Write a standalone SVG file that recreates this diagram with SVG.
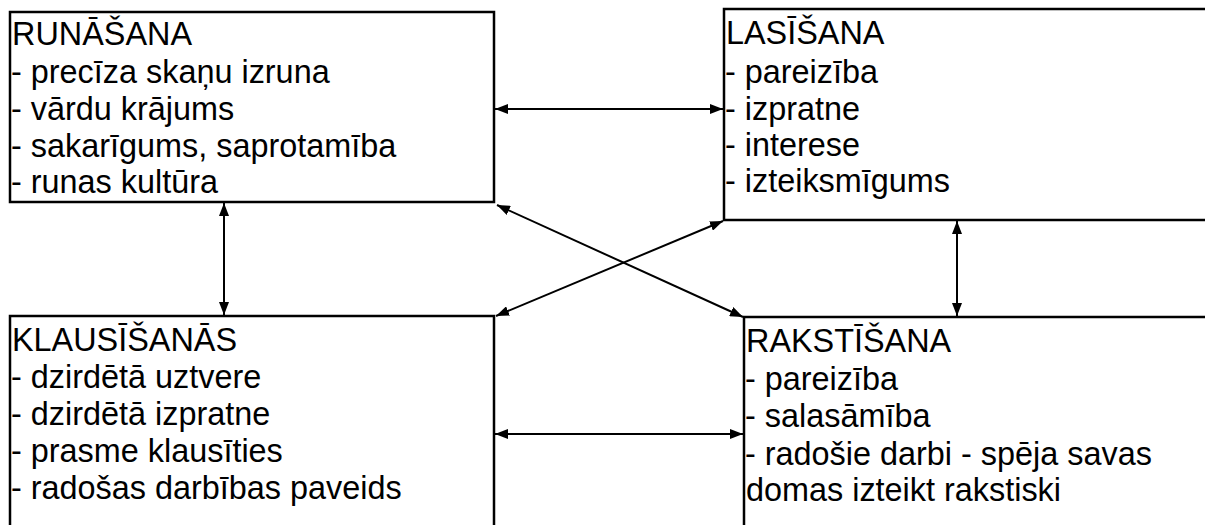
<svg xmlns="http://www.w3.org/2000/svg" width="1205" height="525" viewBox="0 0 1205 525">
  <style>
    .box { fill: #ffffff; stroke: #000000; stroke-width: 2.5; }
    .txt { font-family: "Liberation Sans", Arial, sans-serif; font-size: 32.4px; fill: #000000; }
    .link { stroke: #000000; stroke-width: 2; fill: none; marker-start: url(#arrow); marker-end: url(#arrow); }
  </style>
  <defs>
    <marker id="arrow" viewBox="0 0 13 10" refX="13" refY="5" markerWidth="13" markerHeight="10" markerUnits="userSpaceOnUse" orient="auto-start-reverse">
      <path d="M0,0 L13,5 L0,10 z" fill="#000000"/>
    </marker>
  </defs>
  <rect width="1205" height="525" fill="#ffffff"/>

  <g id="runasana">
    <rect class="box" x="10" y="12" width="484" height="190"/>
    <text class="txt" x="12" y="45">RUNĀŠANA</text>
    <text class="txt" x="11" y="83">- precīza skaņu izruna</text>
    <text class="txt" x="11" y="120">- vārdu krājums</text>
    <text class="txt" x="11" y="157">- sakarīgums, saprotamība</text>
    <text class="txt" x="11" y="193">- runas kultūra</text>
  </g>

  <g id="lasisana">
    <rect class="box" x="724" y="9" width="500" height="211"/>
    <text class="txt" x="726" y="44">LASĪŠANA</text>
    <text class="txt" x="725" y="83">- pareizība</text>
    <text class="txt" x="725" y="120">- izpratne</text>
    <text class="txt" x="725" y="156">- interese</text>
    <text class="txt" x="725" y="192">- izteiksmīgums</text>
  </g>

  <g id="klausisanas">
    <rect class="box" x="10" y="316" width="484" height="230"/>
    <text class="txt" x="12" y="351">KLAUSĪŠANĀS</text>
    <text class="txt" x="11" y="388">- dzirdētā uztvere</text>
    <text class="txt" x="11" y="425">- dzirdētā izpratne</text>
    <text class="txt" x="11" y="462">- prasme klausīties</text>
    <text class="txt" x="11" y="499">- radošas darbības paveids</text>
  </g>

  <g id="rakstisana">
    <rect class="box" x="744" y="317" width="500" height="230"/>
    <text class="txt" x="746" y="352">RAKSTĪŠANA</text>
    <text class="txt" x="745" y="390">- pareizība</text>
    <text class="txt" x="745" y="427">- salasāmība</text>
    <text class="txt" x="745" y="465">- radošie darbi - spēja savas</text>
    <text class="txt" x="746" y="501">domas izteikt rakstiski</text>
  </g>

  <g id="connectors">
    <line class="link" x1="495" y1="109" x2="723" y2="109"/>
    <line class="link" x1="224" y1="203" x2="224" y2="315"/>
    <line class="link" x1="957" y1="221" x2="957" y2="316"/>
    <line class="link" x1="495" y1="434" x2="743" y2="434"/>
    <line class="link" x1="497" y1="205" x2="743" y2="317"/>
    <line class="link" x1="723" y1="221" x2="496" y2="316"/>
  </g>
</svg>
